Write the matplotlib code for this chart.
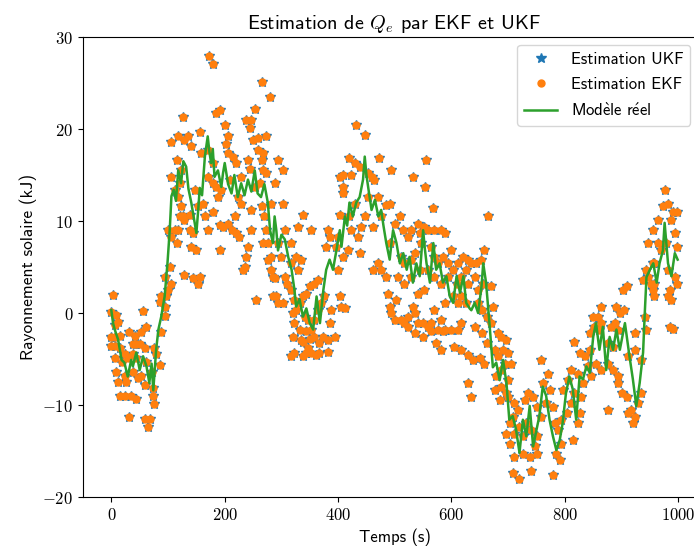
import os
import matplotlib
matplotlib.use("Agg")
import matplotlib.pyplot as plt
from matplotlib import font_manager as fm
from matplotlib.ticker import FuncFormatter

ttf_dir = os.path.join(matplotlib.get_data_path(), "fonts", "ttf")
for f in ("cmss10.ttf", "cmr10.ttf"):
    p = os.path.join(ttf_dir, f)
    if os.path.exists(p):
        fm.fontManager.addfont(p)

plt.rcParams["font.family"] = ["cmss10", "DejaVu Sans"]
plt.rcParams["mathtext.fontset"] = "cm"
plt.rcParams["axes.unicode_minus"] = True

# ---- model ("Modèle réel") ----
t_model = [0, 3, 6, 12, 18, 23, 29, 35, 38, 44, 50, 56, 62, 67, 71, 74, 79, 83, 88, 94,
           99, 103, 106, 110, 114, 118, 123, 127, 132, 136, 141, 146, 150, 153, 156, 160,
           165, 170, 173, 176, 179, 182, 188, 194, 197, 200, 206, 212, 217, 223, 229, 235,
           241, 247, 253, 258, 264, 270, 276, 280, 285, 288, 291, 294, 300, 306, 312, 318,
           323, 326, 332, 338, 344, 350, 356, 362, 368, 374, 379, 385, 391, 397, 403, 406,
           412, 416, 420, 426, 432, 438, 444, 447, 450, 453, 459, 465, 471, 476, 480, 485,
           491, 494, 497, 503, 509, 515, 521, 526, 532, 538, 544, 547, 550, 553, 556, 562,
           568, 573, 579, 585, 591, 597, 603, 609, 615, 621, 626, 632, 635, 641, 647, 653,
           656, 661, 667, 673, 679, 685, 691, 697, 702, 708, 714, 720, 726, 732, 738, 744,
           750, 755, 761, 767, 773, 779, 785, 791, 796, 802, 808, 814, 820, 826, 832, 838,
           844, 850, 855, 861, 867, 873, 879, 885, 891, 897, 906, 914, 920, 926, 932, 938,
           941, 944, 950, 956, 962, 967, 973, 976, 982, 988, 994, 999]
q_model = [0.3, -1.1, -1.8, -2.9, -5.1, -5.4, -6.9, -5.1, -5.8, -4.3, -6.2, -4.7, -5.8, -7.6,
           -5.5, -8.4, -4.0, -1.8, -0.4, 1.8, 5.4, 9.0, 12.7, 13.4, 12.2, 15.5, 14.1, 16.5,
           15.9, 13.5, 12.0, 10.2, 8.7, 11.0, 13.6, 12.8, 17.0, 19.2, 17.5, 16.3, 17.8, 14.8,
           15.5, 13.7, 15.2, 16.3, 14.0, 13.0, 15.0, 12.6, 14.1, 12.8, 14.5, 13.2, 15.5, 13.0,
           12.6, 14.0, 12.0, 9.0, 7.6, 10.5, 9.0, 6.8, 8.5, 8.0, 6.1, 4.7, 2.5, 0.7, 1.5, -0.4,
           0.5, -1.1, -1.8, 1.8, -1.1, 2.5, 4.7, 5.8, 4.7, 6.8, 9.0, 7.2, 10.5, 9.5, 12.0, 10.5,
           12.0, 12.6, 14.5, 17.0, 15.0, 13.7, 11.2, 12.3, 10.5, 11.2, 9.5, 7.6, 5.8, 7.5, 9.0,
           7.6, 5.4, 6.5, 4.7, 6.1, 3.3, 5.4, 4.0, 6.5, 9.0, 7.0, 5.4, 3.3, 7.6, 4.7, 5.4, 3.3,
           4.0, 1.8, 1.1, 4.0, 2.2, 4.0, 1.1, 0.5, 0.3, 1.1, 0.0, 2.9, 5.4, 3.3, -1.1, -5.9,
           -5.4, -7.3, -5.1, -7.6, -11.6, -11.2, -12.7, -15.2, -11.6, -13.4, -10.1, -14.5,
           -12.7, -11.2, -8.0, -9.0, -11.6, -13.4, -14.9, -13.8, -12.0, -8.7, -6.9, -8.3, -11.6,
           -6.9, -7.2, -5.8, -6.5, -2.6, -1.1, -4.0, -1.5, -6.2, -2.6, -4.0, -1.8, -4.0, -1.1,
           -4.7, -7.2, -10.1, -7.6, -4.3, 0.0, 3.9, 4.7, 5.4, 3.3, 5.4, 6.8, 9.8, 5.4, 4.0,
           6.5, 5.8]

# ---- estimates (UKF / EKF) ----
t_est = [3, 0, 9, 12, 6, 0, 6, 15, 32, 56, 53, 62, 41, 44, 38, 50, 0, 6, 15, 24, 38, 59, 76,
         6, 18, 29, 44, 62, 79, 9, 24, 38, 53, 71, 85, 12, 26, 47, 59, 73, 15, 24, 35, 44,
         73, 76, 32, 59, 68, 65, 88, 85, 88, 94,
         94, 97, 100, 106, 94, 103, 115, 106, 100, 112, 129, 144, 153, 156, 118, 126, 106,
         118, 135, 129, 126, 156, 141, 106, 115, 112, 121, 123, 118, 123, 121, 129, 138, 147,
         153, 162, 165, 170, 138, 144, 141, 150, 159, 170, 179, 170, 179, 185, 194, 188, 179,
         173, 179, 185, 191, 200, 206, 191, 197, 206, 191, 203, 206, 215, 220, 229, 209, 223,
         229, 218, 212, 220, 232, 226, 238, 247, 244, 253, 250, 259, 265, 279, 273, 259, 268,
         241, 244, 253, 262, 268, 265, 273, 247, 247, 265, 270, 273, 276, 268, 241, 238, 235,
         276, 282, 285, 256, 285, 294,
         294, 303, 288, 282, 303, 294, 306, 317, 329, 338, 353, 282, 300, 326, 317, 329, 335,
         291, 303, 288, 306, 309, 317, 323, 326, 320, 332, 338, 344, 350, 358, 364, 323, 332,
         341, 347, 353, 358, 364, 370, 376, 385, 388, 320, 335, 344, 350, 358, 367, 373, 382,
         394, 406, 403, 412, 317, 323, 338, 344, 353, 361, 367, 382, 338, 347, 379, 385, 382,
         403, 409, 403, 409, 423, 420, 432, 447, 429, 438, 453, 459, 464, 473, 494, 409, 420,
         429, 423, 435, 441, 447, 453, 461, 470, 476, 485, 491, 400, 397, 409, 417, 438, 400,
         461, 470, 476, 485, 488, 491, 494, 503, 511, 517, 523, 532, 535, 541, 550, 558, 564,
         570, 582, 588, 500, 509, 514, 523, 529, 541, 544, 552, 558, 570, 582, 588, 599, 491,
         511, 517, 529, 535, 547, 564, 570, 576, 585, 594, 603, 611, 532, 555, 553, 568, 505,
         517, 529, 544, 558, 570, 582, 594, 609, 541, 552, 588, 603, 611, 500, 523, 535, 550,
         564, 576, 585, 600, 611, 573, 582, 605,
         664, 658, 652, 644, 635, 629, 620, 626, 617, 629, 641, 647, 656, 670, 617, 626, 647,
         653, 662, 670, 673, 617, 641, 653, 662, 617, 629, 638, 650, 658, 629, 635, 682, 688,
         697, 676, 682, 691, 700, 705, 694, 679, 688, 700, 676, 688, 697, 685, 700, 711, 717,
         703, 709, 697, 703, 711, 720, 726, 732, 741, 750, 729, 735, 744, 750, 758, 711, 726,
         738, 750, 747, 709, 720, 741, 779, 758, 770, 761, 773, 767, 779, 782, 788, 794, 785,
         791, 794, 803, 811, 814, 797, 805, 817, 826, 823, 829, 811, 823, 832, 841, 847, 817,
         826, 835, 844, 844, 852, 859, 864, 876, 885, 894, 855, 864, 876, 885, 894, 876, 894,
         900, 909, 917, 923, 911, 920, 929, 935, 882, 888, 897, 905, 903, 909, 850, 861, 864,
         891, 911, 923, 935, 923, 944, 941, 938, 944, 946, 952, 955, 955, 946, 955, 964, 973,
         976, 982, 991, 997, 988, 994, 997, 964, 970, 979, 958, 982, 994, 997, 985, 982, 988,
         958, 958, 985, 991]
q_ukf = [2.0, 0.1, -0.2, -1.0, -1.3, -2.6, -2.6, -2.5, -2.1, 0.2, -2.1, -1.5, -2.5, -3.4, -3.4,
         -3.4, -3.6, -3.6, -3.8, -4.5, -4.5, -3.8, -3.8, -4.9, -5.3, -4.9, -4.9, -5.3, -4.5,
         -6.4, -6.8, -6.4, -6.8, -6.4, -5.7, -7.5, -7.5, -7.1, -7.8, -8.2, -9.0, -9.0, -9.0,
         -9.4, -9.0, -9.9, -11.3, -11.5, -11.5, -12.4, -2.1, 1.2, 1.9, -0.3,
         0.7, 1.8, 2.5, 3.2, 3.9, 5.0, 7.6, 8.3, 9.0, 9.0, 4.1, 3.8, 3.2, 3.9, 9.0, 10.5, 18.6,
         19.2, 19.2, 18.8, 21.3, 19.7, 18.1, 14.8, 16.6, 13.4, 14.1, 15.5, 12.6, 11.6, 10.5,
         10.1, 10.7, 13.4, 11.6, 11.9, 10.5, 9.0, 9.0, 8.7, 7.2, 6.8, 17.4, 17.7, 16.3, 14.8,
         14.1, 13.7, 13.4, 12.6, 11.0, 27.9, 27.1, 21.7, 22.1, 20.4, 19.2, 9.6, 9.4, 9.7, 6.8,
         18.4, 17.4, 17.0, 16.3, 14.8, 14.5, 12.6, 11.9, 10.5, 9.0, 8.7, 4.7, 8.3, 21.0, 21.0,
         20.1, 22.2, 18.8, 19.0, 25.1, 23.5, 19.2, 17.7, 17.4, 16.6, 15.7, 13.7, 14.1, 15.5,
         16.6, 15.2, 11.2, 9.0, 11.6, 10.5, 9.0, 7.6, 7.6, 7.2, 6.1, 5.0, 5.8, 4.7, 3.9, 1.4,
         1.8, 1.1,
         16.6, 15.5, 14.1, 11.9, 11.9, 7.6, 9.0, 7.6, 9.4, 10.7, 9.0, 6.1, 6.1, 6.1, 5.4, 4.7,
         5.8, 1.8, 1.1, 3.8, 3.9, 3.2, 2.5, 1.4, 0.3, 0.0, 1.1, 1.8, 2.1, 2.9, 3.2, 3.6, -1.1,
         -1.8, -0.4, -0.8, -1.8, -0.8, 0.3, 1.1, 1.8, -1.1, 0.3, -2.6, -2.9, -2.0, -2.8, -2.6,
         -3.3, -2.6, -2.9, -2.6, 0.7, 1.8, 0.5, -4.7, -4.4, -4.7, -4.4, -4.4, -4.6, -4.4, -4.2,
         -3.1, -3.8, 7.2, 8.3, 9.0, 10.7, 13.0, 14.8, 15.0, 15.0, 16.8, 20.4, 19.3, 16.3, 15.9,
         15.2, 14.8, 14.5, 16.8, 15.5, 13.7, 10.5, 11.9, 9.0, 8.3, 9.4, 10.5, 12.6, 9.4, 12.6,
         10.5, 11.7, 11.9, 8.3, 7.2, 6.1, 6.8, 6.5, 4.7, 4.7, 5.4, 4.7, 3.9, 2.1, 0.7, 0.0, 1.4,
         -0.8, -1.1, -0.4, 0.7, 0.0, -1.1, -1.1, -1.5, -1.1, 0.3, -0.8, -1.8, 9.7, 10.5, 9.0,
         8.3, 9.0, 9.7, 8.7, 9.4, 9.0, 9.0, 9.0, 8.7, 6.8, 7.6, 6.1, 5.4, 5.8, 6.5, 7.6, 7.2,
         6.1, 5.4, 6.1, 5.4, 4.7, 5.4, 14.8, 16.6, 13.7, 11.4, 3.9, 3.2, 3.9, 4.7, 4.7, 3.9,
         3.2, 3.9, 3.2, 2.1, 2.5, 1.1, 1.8, 1.1, -0.8, -1.5, -2.2, -2.6, -2.0, -1.8, -2.0, -1.8,
         -1.8, -3.3, -4.0, -3.7,
         10.5, 6.8, 5.8, 5.4, 5.4, 5.8, 6.1, 4.7, 3.9, 3.2, 3.9, 2.5, 3.2, 2.9, 1.8, 1.1, 1.1,
         0.3, -0.4, -1.1, 0.7, -1.1, -1.5, -2.2, -3.3, -4.0, -4.6, -5.1, -4.9, -5.5, -7.6,
         -9.1, -2.2, -2.6, -2.9, -4.0, -4.7, -4.0, -4.4, -5.5, -5.5, -6.9, -6.2, -7.3, -8.4,
         -8.0, -8.7, -9.5, -9.1, -9.8, -10.5, -12.0, -11.3, -13.1, -14.2, -13.1, -12.4, -13.4,
         -12.0, -12.7, -13.4, -9.5, -8.7, -9.1, -10.2, -11.3, -15.6, -15.3, -15.6, -15.3,
         -14.5, -17.4, -18.0, -17.2, -17.6, -5.1, -6.6, -7.6, -8.4, -9.8, -10.2, -12.0, -12.7,
         -11.6, -15.3, -16.0, -14.2, -10.9, -9.8, -13.8, -8.4, -7.3, -8.7, -10.9, -12.0, -9.1,
         -6.2, -6.6, -7.6, -5.8, -6.9, -3.1, -4.4, -4.7, -4.0, -2.2, -1.5, -0.4, -1.1, -3.3,
         -3.7, -1.8, -5.5, -6.2, -5.5, -6.2, -6.9, -10.5, -7.6, -8.7, -9.1, -10.5, -11.3,
         -10.9, -12.0, -9.8, -8.7, -1.5, -1.1, 0.0, 0.3, 2.5, 2.9, -0.4, -1.8, 0.7, 0.7, -4.7,
         -4.0, -5.1, -2.2, -1.8, -0.4, 3.6, 4.7, 3.9, 3.2, 2.5, 5.4, 7.6, 9.0, 10.1, 11.6,
         13.4, 11.9, 11.0, 11.0, 10.1, 8.7, 7.2, 7.6, 6.8, 7.6, 5.4, 4.7, 3.9, 3.2, 2.5, 1.8,
         1.4, 3.2, 1.8, -1.5, -1.7]
q_ekf = list(q_ukf)

fig = plt.figure(figsize=(6.94, 5.53), dpi=100)
ax = fig.add_axes([83 / 694, 56 / 553, 623 / 694, 460 / 553])

ax.plot(t_est, q_ukf, "*", color="C0", markersize=7.5, label="Estimation UKF")
ax.plot(t_est, q_ekf, "o", color="C1", markersize=5, label="Estimation EKF")
ax.plot(t_model, q_model, "-", color="C2", linewidth=1.8,
        label=r"$\mathsf{Mod\grave{e}le\ r\acute{e}el}$")

ax.set_xlim(-50, 1049)
ax.set_ylim(-20, 30)
ax.set_xticks([0, 200, 400, 600, 800, 1000])
ax.set_yticks([-20, -10, 0, 10, 20, 30])
fmt = FuncFormatter(lambda v, p: "$%d$" % int(round(v)))
ax.xaxis.set_major_formatter(fmt)
ax.yaxis.set_major_formatter(fmt)
ax.tick_params(labelsize=12)

ax.set_title("Estimation de $Q_e$ par EKF et UKF", fontsize=14.5)
ax.set_xlabel("Temps (s)", fontsize=12)
ax.set_ylabel("Rayonnement solaire (kJ)", fontsize=12.5)

ax.legend(loc="upper right", bbox_to_anchor=(690 / 694, 1 - 45 / 553),
          bbox_transform=fig.transFigure, borderaxespad=0, fontsize=12,
          labelspacing=0.6)

fig.savefig("out.png", dpi=100)
